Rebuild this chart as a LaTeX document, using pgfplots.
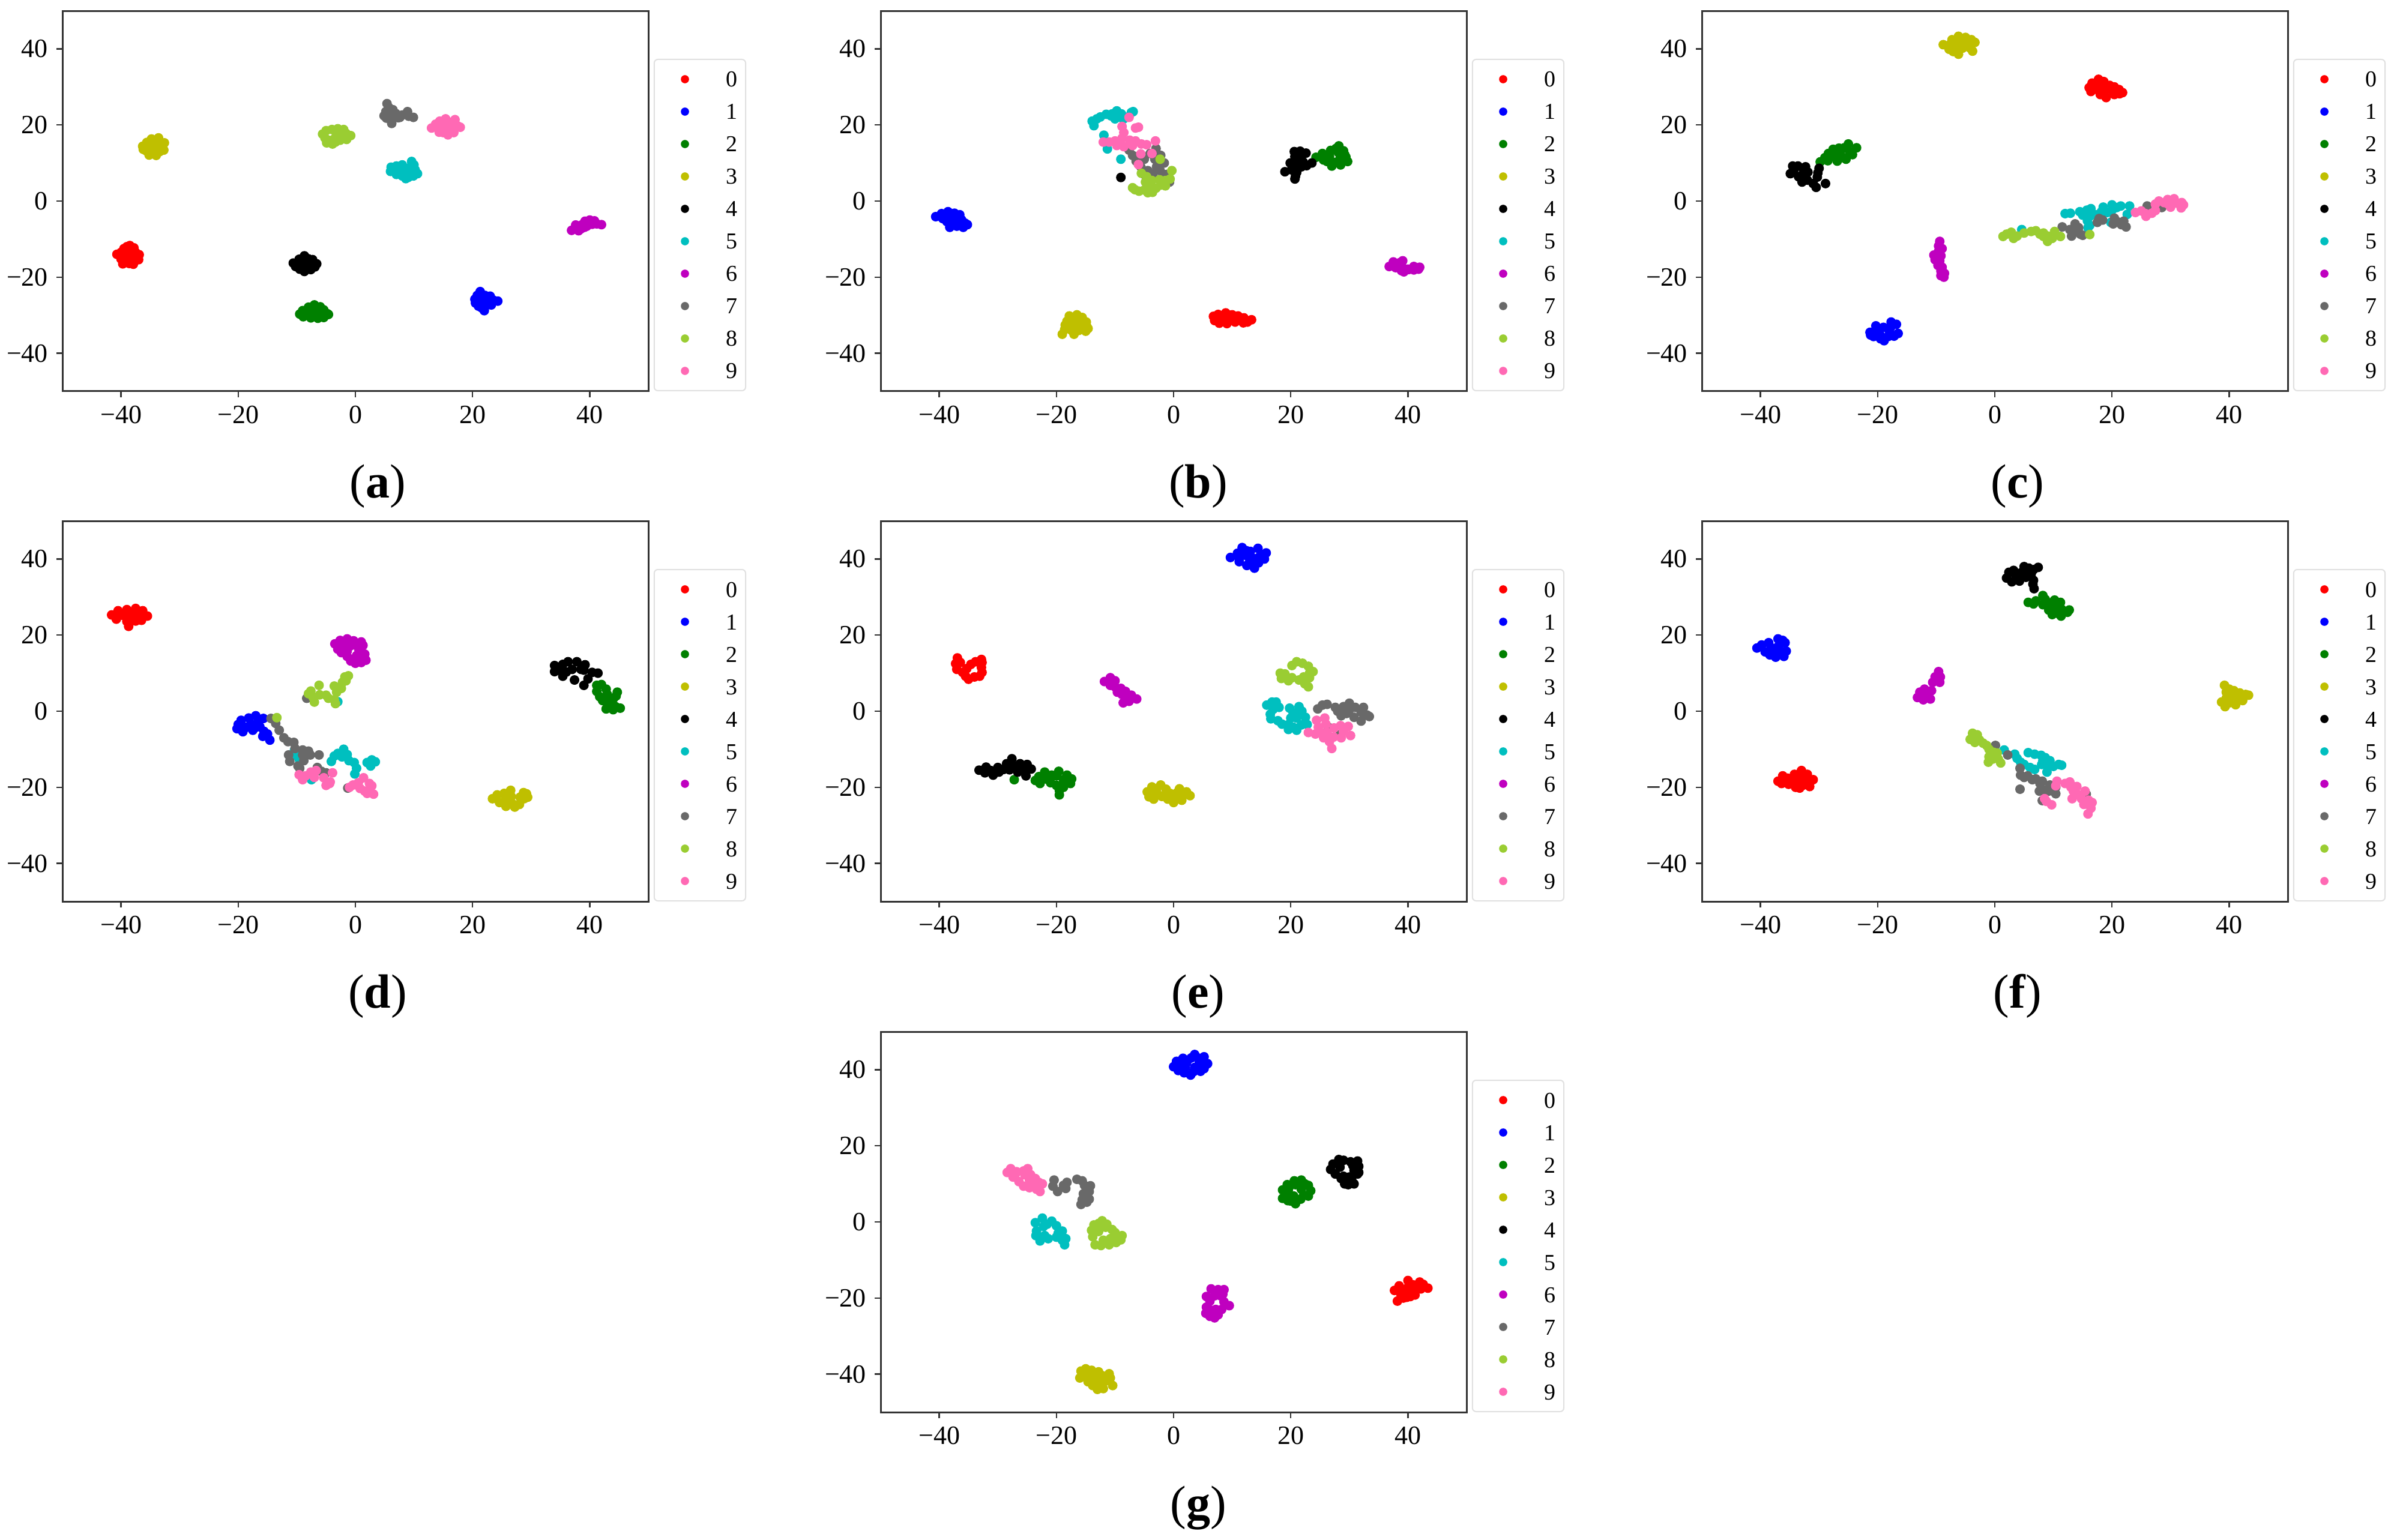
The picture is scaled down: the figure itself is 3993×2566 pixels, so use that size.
\documentclass[border=0pt]{standalone}
\usepackage{fontspec}
\setmainfont{Liberation Serif}
\usepackage{pgfplots}
\pgfplotsset{compat=1.18}

\definecolor{c2}{RGB}{0,128,0}
\definecolor{c3}{RGB}{191,191,0}
\definecolor{c5}{RGB}{0,191,191}
\definecolor{c6}{RGB}{191,0,191}
\definecolor{c7}{RGB}{105,105,105}
\definecolor{c8}{RGB}{154,205,50}
\definecolor{c9}{RGB}{255,105,180}

\pgfplotscreateplotcyclelist{tsne}{
  {red,mark=*},{blue,mark=*},{c2,mark=*},{c3,mark=*},{black,mark=*},
  {c5,mark=*},{c6,mark=*},{c7,mark=*},{c8,mark=*},{c9,mark=*}}

\pgfplotsset{panel/.style 2 args={
    at={(#1*0.25pt,-#2*0.25pt)}, anchor=south west,
    scale only axis, width=244pt, height=158.5pt,
    xmin=-50, xmax=50, ymin=-50, ymax=50,
    xtick={-40,-20,0,20,40}, ytick={-40,-20,0,20,40},
    xticklabels={−40,−20,0,20,40}, yticklabels={−40,−20,0,20,40},
    tick align=outside, tick pos=left, tick style={black!80,line width=0.6pt},
    major tick length=2.5pt,
    axis line style={black!80,line width=0.75pt},
    tick label style={font=\fontsize{11}{13}\selectfont},
    only marks, mark size=1.8pt, cycle list name=tsne,
    legend entries={0,1,2,3,4,5,6,7,8,9},
    legend image code/.code={\path[draw=none,fill=none] (-10.3pt,0pt) rectangle (16pt,0.1pt);
      \draw[##1,mark size=1.45pt] plot coordinates {(0pt,0pt)};},
    legend style={at={(axis description cs:1,0)}, anchor=south west, xshift=2.2pt,
      font=\fontsize{9.5}{11}\selectfont, draw=black!12, line width=0.5pt,
      rounded corners=1.5pt, inner xsep=2.5pt, inner ysep=4pt,
      row sep=5pt, nodes={inner sep=1pt,text height=6.5pt,text depth=0pt}},
    legend cell align=left,
  }}

\begin{document}
\begin{tikzpicture}[x=0.25pt,y=-0.25pt]
\path[use as bounding box] (0,0) rectangle (3993,2566);

% (a)
\begin{axis}[panel={104}{652}]
\addplot coordinates {(-38.5,-11.7)(-39.5,-12.5)(-37.8,-12.3)(-40,-13.5)(-38.8,-13.2)(-37.5,-13.5)(-40.7,-14)(-39.4,-14.3)(-38.2,-14.4)(-36.9,-14.1)(-40,-15.2)(-38.8,-15.4)(-37.6,-15.2)(-39.7,-16.5)(-38.6,-16.4)(-37.9,-16.6)(-37,-15.4)(-39,-12)};
\addplot coordinates {(21.3,-23.8)(20.8,-24.8)(22.1,-24.8)(20.4,-25.8)(21.5,-25.6)(22.8,-25.3)(20.5,-26.8)(21.6,-26.7)(22.7,-26.5)(24.3,-26.3)(23.5,-26)(21,-27.6)(22.1,-27.8)(23.2,-27.3)(22,-28.8)(21.5,-28)(23,-25)};
\addplot coordinates {(-7,-27.3)(-8,-27.9)(-6,-27.8)(-9,-28.8)(-7.8,-28.6)(-6.6,-28.7)(-5.4,-28.6)(-9.5,-29.7)(-8.4,-29.5)(-7.2,-29.8)(-6,-29.6)(-4.8,-29.6)(-8.9,-30.4)(-7.6,-30.7)(-6.4,-30.8)(-5.4,-30.6)(-4.6,-29.8)};
\addplot coordinates {(-34.8,16.3)(-33.6,16.6)(-35.6,15.4)(-34.5,15.5)(-33.3,15.5)(-32.6,15.3)(-36.3,14.4)(-35.2,14.2)(-34.1,14.3)(-33,14.2)(-35.7,13.2)(-34.6,13)(-33.4,13)(-32.7,13.4)(-35.2,12.1)(-34,12)(-36.2,13.6)};
\addplot coordinates {(-8.7,-14.4)(-9.6,-15.3)(-8,-15.2)(-7.3,-15.4)(-10.6,-16.3)(-9.4,-16.2)(-8.3,-16.3)(-7.2,-16.1)(-6.6,-16.5)(-10.2,-17.2)(-9,-17.3)(-7.8,-17.5)(-6.9,-17.3)(-8.7,-18.5)(-9.5,-17.9)(-7.6,-18)};
\addplot coordinates {(6.1,8.9)(7,9.2)(8,9.5)(6,7.8)(7.1,8.1)(8,8.3)(7,7)(8,6.6)(9.6,10.4)(10,9.5)(9.3,8.8)(10.2,8.2)(9.2,7.5)(10.6,7.2)(9,6.2)(9.9,6.6)(8.6,5.9)};
\addplot coordinates {(36.9,-7.7)(37.8,-7.2)(38.5,-7.3)(37.6,-6.3)(38.7,-6.2)(39.5,-6.6)(39.2,-5.3)(40,-5)(40.8,-5.2)(40.4,-6.1)(41.2,-6)(42,-6.2)(38.1,-7.8)(39.1,-6.9)};
\addplot coordinates {(5.4,25.6)(5.7,24.6)(5.2,23.5)(6.4,24)(4.9,22.4)(5.8,22.8)(6.9,23)(5.3,21.8)(6.3,21.5)(6.2,20.4)(7.3,21.9)(8,22.6)(8.9,23.5)(9.1,22.3)(9.9,22)(7.6,22)};
\addplot coordinates {(-5.6,17.6)(-5,18.5)(-4,18.8)(-3,19)(-2,18.8)(-1.6,17.8)(-0.8,17.2)(-1.5,16.2)(-2.6,16)(-3.4,15.5)(-3.9,15)(-4.6,16)(-5.2,16.6)(-3.2,17.8)(-2.4,17.2)(-3.5,16.5)(-4.9,15.3)};
\addplot coordinates {(15.4,21.6)(14.4,21)(17,21.4)(13.7,20.2)(15,20)(16.2,20.2)(17.5,19.7)(13,19.2)(14.4,19)(15.6,18.9)(16.5,19)(17.9,19.4)(15,18)(15.8,17.4)(16.8,18)(14.3,18.1)(16.7,20.9)};
\end{axis}
\node at (629,810) {\fontsize{20}{22}\selectfont(\textbf{a})};

% (b)
\begin{axis}[panel={1467}{652}]
\addplot coordinates {(6.8,-30.3)(7.6,-29.8)(8.9,-29.4)(10,-29.9)(11,-30.2)(12,-30.7)(13.3,-31.2)(7,-31.4)(8.1,-31)(9.2,-30.9)(10.3,-31)(11.4,-31)(12.6,-31.8)(7.8,-32.1)(9.1,-32.2)(10.5,-31.8)(11.9,-32)};
\addplot coordinates {(-40.6,-4.1)(-39.6,-3.3)(-38.5,-2.8)(-37.4,-3.2)(-36.5,-3.6)(-39.4,-4.6)(-38.3,-4.2)(-37.2,-4.5)(-36.2,-4.9)(-38.7,-5.4)(-37.6,-5.7)(-36.6,-5.6)(-35.6,-5.8)(-38.2,-6.9)(-37,-6.6)(-35.9,-6.9)(-35.2,-6.2)};
\addplot coordinates {(24.3,11.5)(25.4,12.5)(25.6,10.8)(26.8,13.3)(26.6,11.8)(27.3,10.2)(27,9.2)(28.2,14.5)(28.1,12.8)(28.4,11.2)(29,13.2)(29.4,11.6)(29.7,10.4)(28.5,9.5)(29.2,12.2)(27.7,13.8)(26.2,10.4)};
\addplot coordinates {(-16.5,-29.9)(-17.8,-30.2)(-15.6,-30.6)(-18.2,-31.6)(-17,-31.4)(-15.8,-31.5)(-14.9,-31.8)(-18.5,-32.6)(-17.3,-32.7)(-16.1,-32.8)(-14.8,-33)(-18.6,-33.8)(-17.4,-34)(-16.2,-34)(-15,-34.2)(-19,-35)(-17,-35)(-14.6,-33.5)};
\addplot coordinates {(-9,6.2)(20.6,13)(21.6,13.1)(22.6,12.6)(20.7,11.7)(21.7,11.8)(19.9,10)(21,10.4)(22.1,10.3)(23.6,10)(20.7,9.2)(21.8,9)(22.7,9.3)(19,7.7)(20.1,8.2)(21,7.5)(20.8,6.5)(20.7,5.8)};
\addplot coordinates {(-13.9,21)(-13.6,19.8)(-13.1,21.6)(-12.5,22.1)(-11.5,22.8)(-10.7,22.4)(-9.7,23.7)(-8.9,22.9)(-10,21.6)(-8.6,21.5)(-7.2,23.3)(-6.9,23.5)(-11.9,17.3)(-11.3,13.7)(-9,11)(-10.5,22.9)(-8,22)};
\addplot coordinates {(36.8,-17.2)(37.5,-16)(38.6,-16.2)(37.9,-17.5)(39,-17.3)(40,-17.9)(41,-17.2)(42,-17.4)(38.9,-18.3)(40.1,-18)(41,-18.1)(41.8,-17.9)(39.1,-15.7)(39.3,-18.6)};
\addplot coordinates {(-7.6,13.4)(-7,12)(-6.4,10.5)(-5.6,9)(-5,11)(-4.4,8)(-4,12.5)(-3.5,7.2)(-3.2,11)(-2.9,9)(-3,13.8)(-2.3,8)(-2.2,12)(-1.6,10)(-1.2,7)(-0.7,5)(-1.5,6)(-5,7)};
\addplot coordinates {(-6.6,3)(-7,3.5)(-5.9,2.6)(-5,2.9)(-4.4,2.2)(-3.6,2.3)(-4,3.6)(-3,3.4)(-2.2,4.2)(-1.4,4)(-1.4,5.4)(-0.6,5.8)(-2.4,5.6)(-5.5,7.3)(-4.6,6.4)(-3.7,5.4)(-0.3,8)(-2.3,11)(-4.8,5)};
\addplot coordinates {(-7.6,22)(-8.8,19.6)(-8.5,18)(-6.5,19.2)(-6,19.4)(-12,15.5)(-11,15.5)(-10,15.8)(-8.8,16.5)(-7.5,16)(-6.5,15.8)(-5.5,15)(-4.6,14.8)(-3.1,15.8)(-8.5,14.3)(-7,14.6)(-5.6,12.4)(-6,9.6)(-3.7,12.5)(-9.7,14.6)};
\end{axis}
\node at (1996,810) {\fontsize{20}{22}\selectfont(\textbf{b})};

% (c)
\begin{axis}[panel={2835}{652}]
\addplot coordinates {(17.7,32)(16.6,31)(18.6,31.4)(16.1,29.8)(17.2,30.3)(18.3,30.2)(19.6,30.4)(20.4,30)(16.4,28.8)(17.6,29.2)(18.8,29.1)(20,29.1)(21.2,29.3)(21.8,28.5)(18,28)(19,27.2)(20.4,28)(21.3,28.2)};
\addplot coordinates {(-20.3,-32.8)(-21.3,-34.5)(-20.2,-34)(-19,-33.2)(-17.7,-31.8)(-16.8,-32.4)(-17.8,-33.2)(-18,-34.2)(-16.5,-34.8)(-20.7,-35.6)(-19.5,-35.4)(-18.2,-35.6)(-17.2,-35.5)(-18.9,-36.7)(-19.5,-36.2)(-21.2,-35.2)};
\addplot coordinates {(-29.8,10.3)(-29,11.4)(-28.4,12.5)(-28.5,10.6)(-27.6,13.6)(-27.4,11.6)(-26.9,10.5)(-26.6,13.9)(-26.4,12.4)(-25.7,14)(-25.4,11)(-25,15)(-24.8,13)(-24.3,12.2)(-23.6,14)(-25.9,11.4)};
\addplot coordinates {(-6.2,43.3)(-7.3,42.4)(-5,43)(-4,42.4)(-8.8,41.1)(-7.5,41.4)(-6.3,41.5)(-5.1,41.6)(-3.8,41.5)(-3.4,41.7)(-7.8,39.9)(-6.6,40.1)(-5.5,40.2)(-4.2,40.2)(-3.8,39.4)(-6.2,38.6)(-7.1,39.3)};
\addplot coordinates {(-34.5,9.2)(-33.6,9.2)(-34.9,7.2)(-34.3,8.2)(-32.7,8.5)(-32.3,9)(-33.5,6.4)(-32.8,7)(-31.9,7.6)(-30,8.6)(-30.2,7.4)(-30.3,6.3)(-32.9,5)(-32,5.5)(-31,4.6)(-30.5,3.6)(-28.9,4.6)};
\addplot coordinates {(4.6,-7.5)(12,-3.3)(12.9,-3.2)(14.5,-2.8)(15.7,-2.4)(16.4,-2)(15,-3.7)(16.2,-4)(17.2,-3.6)(15.8,-5.2)(16.2,-6.4)(15.9,-7)(18.2,-2.8)(18.5,-1.6)(19.2,-3)(20,-1)(20.8,-1.7)(21.5,-1.3)(20,-2.4)(23,-1.3)(22.6,-3.5)(19.8,-5.6)};
\addplot coordinates {(-9.4,-10.6)(-9.6,-11.8)(-9,-12.5)(-9.6,-13.2)(-10.4,-14.2)(-9.2,-14.4)(-10.2,-15.4)(-9.4,-15.7)(-9.7,-16.9)(-9,-17.4)(-9.2,-18.4)(-8.6,-19)(-8.7,-20)(-9.2,-19.6)};
\addplot coordinates {(11.5,-6.8)(12.8,-7.5)(13.7,-6)(13.4,-8)(14.3,-7)(13.1,-9.2)(14.6,-8.7)(15,-9)(17.5,-5.6)(18.4,-5)(17.8,-4.6)(20.4,-4.5)(21,-5.5)(22,-5.3)(22.4,-6.8)(21.6,-6.2)(20.2,-6)(26,-1.3)(28.5,-1.7)};
\addplot coordinates {(1.4,-9.3)(2,-8.7)(2.8,-8.2)(3.2,-9.8)(3.8,-9.2)(5,-8.4)(6.2,-8)(7,-7.8)(7.7,-8.7)(8.3,-9.3)(9,-10.6)(9,-9.2)(9.8,-9.8)(10.2,-8)(11.2,-9.3)(16.2,-8.8)(8.3,-8.4)};
\addplot coordinates {(24,-3)(25,-2.6)(25.7,-3.3)(25.8,-4)(26.8,-3.2)(27.4,-2.5)(27.4,-0.8)(28,0)(28.9,-0.4)(29.5,0.4)(30,-1.6)(30.6,0.6)(30.8,-0.5)(31.8,-1.8)(31.9,-0.4)(32.2,-1)(29.6,-0.8)};
\end{axis}
\node at (3361,810) {\fontsize{20}{22}\selectfont(\textbf{c})};

% (d)
\begin{axis}[panel={104}{1502}]
\addplot coordinates {(-41.6,25.3)(-40.8,24.2)(-40.5,26.4)(-39.7,25.2)(-39,26.7)(-38.5,24.5)(-39,23.6)(-38.7,22.3)(-38,26)(-37.5,27)(-37.5,23.7)(-37,25)(-36.3,26.4)(-36.5,23.9)(-35.5,25)(-38.2,25.5)};
\addplot coordinates {(-20.2,-4.6)(-20,-3.5)(-19.5,-2.4)(-19.2,-5.4)(-18.6,-4.2)(-18.2,-1.8)(-17.8,-3.4)(-17.5,-5)(-17,-1.2)(-16.5,-2.6)(-16.3,-4.1)(-15.7,-1.9)(-15.6,-5.3)(-15.8,-6.6)(-15,-6)(-14.6,-7.6)(-17,-4.2)};
\addplot coordinates {(41.2,6.8)(41.2,5.2)(42,7)(41.7,3.8)(42.2,2.8)(43,4.4)(42.8,5.8)(43.2,3)(44,3.2)(44.7,5)(44.5,4)(43.3,1.6)(42.8,0.6)(44.4,1.2)(45.2,0.8)(44,0.4)};
\addplot coordinates {(23.4,-23)(24.2,-22)(24.6,-24)(25.4,-21.6)(25.6,-23.2)(25.7,-25)(26.5,-20.8)(26.6,-22.4)(26.8,-24.3)(27.2,-25.2)(28,-24.5)(28.8,-23)(28.7,-21.4)(29.2,-21.7)(29.4,-22.6)(28.1,-22.6)};
\addplot coordinates {(34,12)(34,10.4)(34.7,11)(35.4,9.2)(35.4,12.3)(36,10.3)(36.3,13)(37,11)(37.4,8.2)(37.8,13)(38.5,11)(39,10.8)(39.2,12.2)(40.4,10.2)(41.4,10)(39,6.8)(39.7,8.5)};
\addplot coordinates {(-10.4,-10.3)(-10,-11.7)(-9.6,-12.6)(-4.1,-13.2)(-3.6,-11.8)(-3,-11.1)(-2.3,-12)(-2,-10)(-1.4,-11.4)(-1.1,-13)(-0.2,-13.5)(0.2,-15)(-0.1,-16.5)(2,-13.5)(2.6,-14.4)(3.4,-13.3)(2.8,-12.8)(-7.5,-18)(-3,2.5)};
\addplot coordinates {(-3.5,17.7)(-2.6,18.6)(-1.4,19)(-0.3,18.5)(1,18.2)(-3,16.3)(-2.4,15.4)(-1.4,14.4)(-0.8,13.2)(0,12.6)(0.6,16.2)(1.6,15)(1.8,13.4)(1,12.8)(0.2,14.6)(1.3,17.3)(-1.8,17)(-0.8,17.2)(0.2,17.4)(-1.4,15.8)(0.8,14.4)};
\addplot coordinates {(-14.4,-1.9)(-13.6,-3.2)(-13,-5)(-12.2,-7)(-11.5,-8)(-10.5,-8.2)(-10.3,-9.8)(-9,-10.2)(-8,-10.5)(-7.7,-11.5)(-6.2,-11.5)(-11.4,-11.5)(-11.2,-13.2)(-9.8,-14.4)(-8.8,-13)(-9,-11.5)(-6.5,-14.8)(-5.8,-15.8)(-5,-16.2)(-1.3,-20.2)(-8.3,3.4)(-9.5,-15)};
\addplot coordinates {(-8,4.6)(-7.6,5.3)(-7.2,3.6)(-7,2.4)(-6.2,6.8)(-6.1,4.3)(-5,4.2)(-4.6,3.4)(-3.6,6.6)(-3.6,3)(-3.4,2)(-3.2,5)(-2.4,6)(-2.2,7.6)(-1.8,9)(-1.6,8)(-1.2,9.3)(-13.4,-1.7)};
\addplot coordinates {(-9.6,-16.7)(-9,-18)(-8.5,-17)(-7.6,-16)(-7,-17.4)(-6.7,-15.6)(-5.4,-17.5)(-5,-19.5)(-4.3,-18.6)(-3.9,-16.2)(-4.4,-19)(-1,-20)(-0.4,-19.4)(0.5,-18.8)(1.4,-17.5)(0.8,-20.3)(2.4,-19)(1.6,-21)(2.8,-19.6)(3.1,-21.8)(2,-21.6)};
\end{axis}
\node at (629,1660) {\fontsize{20}{22}\selectfont(\textbf{d})};

% (e)
\begin{axis}[panel={1467}{1502}]
\addplot coordinates {(-36.9,14)(-37.2,12.5)(-36.4,12.8)(-37,11)(-36,10.2)(-35.5,9.2)(-35,8.4)(-34,9)(-33.1,9.2)(-32.7,10.2)(-32.8,11.5)(-32.7,12.8)(-32.8,13.6)(-33.8,13)(-34.6,12.3)(-35.3,11.2)};
\addplot coordinates {(9.7,40.4)(10.9,41.5)(11.7,43)(11.2,39.3)(12.2,41)(12.5,38.3)(13.1,42)(13.4,40.3)(13.8,37.6)(14.4,42.8)(14.5,39)(15,41)(15.5,40)(15.8,41.6)(12.9,39)(14.6,40.5)(11.2,40.4)(12.4,42.2)};
\addplot coordinates {(-27.2,-18)(-23.6,-18.2)(-23,-17.2)(-22.8,-19)(-22,-16)(-21.8,-17.8)(-21,-18.8)(-20.8,-16.8)(-20,-17)(-20,-19.5)(-19.6,-15.8)(-19.5,-20.8)(-19.5,-22)(-18.8,-18)(-18.2,-16.8)(-17.6,-19)(-17.4,-17.8)(-18.8,-20)};
\addplot coordinates {(-4.5,-21.2)(-4.2,-22.5)(-3.7,-19.9)(-3.4,-23.1)(-2.9,-21.2)(-2.2,-19.4)(-2,-22.4)(-1.3,-20.5)(-1,-23.1)(-0.6,-21.6)(0,-24)(0.2,-22.4)(1,-20.4)(1.4,-23.4)(2.2,-21.2)(2.8,-22.2)(-1.2,-22)(-3,-20.4)(0.6,-21.4)(1.6,-22.2)};
\addplot coordinates {(-33.2,-15.5)(-32.2,-16.2)(-32,-14.7)(-31.2,-15.6)(-30.8,-16.8)(-30,-14.8)(-29.8,-16)(-29,-15.3)(-28.5,-13.8)(-28,-15.4)(-27.6,-12.5)(-27,-14.4)(-26.6,-16)(-26.2,-13.8)(-25.5,-15.4)(-25,-14)(-24.3,-15.2)(-25.2,-17)};
\addplot coordinates {(15.9,1.6)(16.8,2.4)(17.5,2.4)(18,1)(17,0.5)(16.5,-0.8)(16.6,-2)(17.8,-2.5)(18.5,-3.4)(19.5,-3.6)(19.6,-4.8)(20.4,-4.2)(21,-5)(21.8,-3.6)(22.8,-3.5)(22.5,-1.6)(21.9,0)(21.4,1.2)(19.8,0.8)(20,-1.8)(21,-1.8)(20.4,-0.4)};
\addplot coordinates {(-11.8,7.8)(-10.8,8.8)(-10,8)(-10.8,6.8)(-10,6.4)(-9.6,5)(-9,6)(-8.8,4.4)(-8.2,5.2)(-8.6,2.2)(-7.8,3.4)(-7.2,4.2)(-6.3,3.2)(-7.6,2.6)};
\addplot coordinates {(24.6,0.6)(25.4,1.6)(26.2,1.8)(27.6,1)(28,0)(28.6,-1.2)(29,1.2)(29.5,-0.6)(30,2.1)(30,0.4)(30.8,-1.6)(31,1)(32,-0.2)(32.4,1)(33,-1)(33.4,-1.4)(32,-2.6)(26.4,-4.2)(28.4,-6.2)};
\addplot coordinates {(18.2,10)(18.4,8.6)(19,9.8)(19.6,8)(20.2,8.8)(20.2,12)(21,13)(21.4,8.2)(22,12.6)(22.4,7.2)(23,11.8)(23.2,10)(23.8,10.4)(23.2,8.8)(23,6.4)(22.2,9)};
\addplot coordinates {(24.4,-2.4)(24.7,-4.2)(25.8,-1.8)(26,-3.4)(23,-5.6)(24.2,-6)(25,-5.4)(25.6,-7)(26.2,-5.6)(26.6,-8)(27,-9.8)(27.3,-6.8)(27.4,-4.4)(28.5,-3.8)(29,-5.4)(29.8,-4)(30.2,-6.4)(28.6,-7)};
\end{axis}
\node at (1996,1660) {\fontsize{20}{22}\selectfont(\textbf{e})};

% (f)
\begin{axis}[panel={2835}{1502}]
\addplot coordinates {(-37,-18.4)(-36.2,-17)(-36.4,-19)(-35.4,-17.6)(-35.2,-19.2)(-34.2,-16.6)(-34,-18.4)(-34,-20)(-33,-15.6)(-33,-17.4)(-32.8,-19.5)(-32,-18.2)(-32,-16.6)(-31.6,-19.8)(-31,-18)(-33.3,-20.2)};
\addplot coordinates {(-40.6,16.6)(-39.8,17.4)(-39.2,15.6)(-38.6,18)(-38.4,14.8)(-37.7,16.5)(-37.4,14.2)(-37,19)(-36.8,17.4)(-36.6,15.6)(-36.2,18.6)(-36,14.4)(-35.6,15.8)(-35.8,18)(-38.2,16.6)};
\addplot coordinates {(5.7,28.6)(6.6,28.2)(7,29)(8.2,30.4)(8.2,28)(8.6,29.4)(9.2,26.6)(9.4,28.4)(9.8,25.4)(10.2,29.2)(10.6,27.4)(10.8,25.7)(11.2,28.6)(11.4,26.8)(12.4,26)(12.7,26.6)(11.3,25)};
\addplot coordinates {(38.7,2.4)(39.2,6.8)(39.3,1.2)(39.5,3.4)(39.5,5)(40,2.2)(40.4,4)(40.8,5.4)(41.1,1.7)(41.5,3.2)(41.8,4.8)(42.3,2.8)(42.8,4.4)(43.3,4.2)(40,5.8)};
\addplot coordinates {(2,35)(2.4,36.5)(2.9,34)(3.2,37)(3.6,35.4)(4.2,34.2)(4.6,36.5)(5,38)(5.3,35.2)(5.8,37.6)(6.2,36)(6.6,37.2)(6.6,34.4)(6.5,33.4)(6.7,32.2)(7.4,37.8)(3.5,36)};
\addplot coordinates {(1.6,-10.2)(3.4,-11.3)(3.8,-12.4)(4.4,-13.4)(5,-14)(6,-14.8)(6.8,-15.3)(5.7,-10.9)(6.8,-11.3)(7.9,-11.6)(8.2,-13)(8.6,-12.2)(9.4,-13)(9,-14.6)(8.9,-16)(10,-14.5)(10.9,-14)(11.4,-14.2)(8,-14)};
\addplot coordinates {(-13.2,3.6)(-12.8,5)(-12.2,3)(-12,5.8)(-11.6,4.4)(-11,3.2)(-10.8,5.4)(-10.6,7.6)(-10.2,9)(-10,8)(-9.6,10.4)(-9.3,9)(-9.4,7.6)};
\addplot coordinates {(0.1,-9)(2.2,-11.5)(4.3,-15)(4.4,-16.8)(4.3,-20.5)(5,-17.4)(5.6,-17)(6.4,-18)(7,-17.8)(7.7,-19)(7.6,-21)(8.1,-18.4)(8.2,-20.6)(8.1,-23.5)(9.2,-21)(9.4,-19.4)(10.4,-20)(10.4,-21.7)(15.6,-21.8)};
\addplot coordinates {(-4.2,-7.4)(-3.8,-5.8)(-3.5,-7)(-3.4,-8.2)(-3,-6.2)(-2.6,-7.6)(-2,-8.4)(-1.4,-9)(-1,-10)(-0.2,-10.8)(0.4,-11)(-1,-12)(-0.4,-12.6)(0.6,-12.6)(1,-13.6)(-1.1,-13.4)};
\addplot coordinates {(10.6,-18.4)(10.4,-19.6)(12,-19)(12.8,-18.6)(13,-20)(13.4,-21)(14,-19.8)(13.2,-23)(14.3,-22)(14.8,-23)(15.4,-21)(15.2,-24.5)(16,-23.4)(16.6,-24)(16.4,-25.5)(15.9,-27)(8.5,-23)(8.8,-23.7)(9.7,-24.6)};
\end{axis}
\node at (3361,1660) {\fontsize{20}{22}\selectfont(\textbf{f})};

% (g)
\begin{axis}[panel={1467}{2353}]
\addplot coordinates {(37.7,-18)(38.2,-20.8)(38.5,-16.8)(38.8,-19)(39.6,-17.7)(39.8,-19.8)(40,-15.4)(40.6,-18.4)(40.8,-16.5)(41.2,-19.2)(41.4,-17.4)(42,-15.8)(42.2,-17.6)(42.6,-16.4)(43.4,-17.4)(39.2,-20)(40,-17.2)(39.2,-18.6)(41,-17.8)(40.4,-19.6)};
\addplot coordinates {(0,40.8)(0.5,42.2)(0.8,39.8)(1.2,41.4)(1.6,43)(1.8,39.2)(2.4,42.5)(2.9,38.6)(3,43.1)(3.6,44)(3.4,39.5)(4.2,41)(4.6,39.6)(4.4,43)(5.2,43.4)(5.8,41.6)(5.2,40.3)(2,40.6)(4.4,42)(2.2,41.8)(3.6,40.6)};
\addplot coordinates {(18.6,6.2)(18.6,8.4)(19.4,9.8)(19.6,7)(20,5.5)(20.6,10.8)(20.8,4.8)(21.8,11)(21.7,6)(22.4,10)(22.2,7)(23.4,8.2)(23,6.8)(19.5,5.6)(23,9.6)(20.8,9.8)(20.5,6.8)(19.6,8.6)(21.8,8.6)};
\addplot coordinates {(-15.8,-39.2)(-16,-41)(-15,-38.6)(-14.8,-40.4)(-14.6,-42)(-14,-39)(-13.8,-43)(-13.6,-41)(-13,-44)(-12.8,-42.2)(-12.2,-40.4)(-12,-43.8)(-11.6,-41.8)(-11,-39.9)(-10.4,-43)(-10.8,-41)(-14,-40.6)(-13,-41.4)(-12.8,-39.4)(-13.4,-42.6)};
\addplot coordinates {(26.8,13.8)(27.2,15.2)(27.6,12.6)(28.2,16.4)(28.6,11.4)(29,16.2)(29.2,10)(29.8,9.8)(30.2,15.8)(30.4,11)(30.8,10)(31.4,12.6)(31.6,14.6)(31.6,13)(31.4,16)(30.8,13.6)(28.4,14.4)(30.6,14.8)(29,12)(30,11.8)};
\addplot coordinates {(-23.6,-0.2)(-23.4,-2.4)(-23.5,-3.6)(-22.8,-5)(-22.4,1)(-21.6,-0.6)(-21.4,-4.4)(-20.8,0.2)(-20,-4)(-20,-1)(-19.7,-3)(-19,-4.8)(-19,-2.4)(-18.4,-4.4)(-18.6,-6)(-22.2,-1.2)(-22,-3.6)};
\addplot coordinates {(5.6,-19.6)(6.4,-17.6)(6.2,-20.8)(5.6,-22.4)(5.5,-24)(6.2,-24.8)(7,-25.2)(7.6,-24.4)(8.2,-23)(8.6,-21)(8.4,-19)(8.6,-17.8)(7.6,-17.8)(9.5,-22)(7,-19.4)(7.2,-23)(6.4,-23.2)(8,-19.4)};
\addplot coordinates {(-20.4,11)(-20.6,9.4)(-19.8,8)(-18.8,9.6)(-18.2,10.4)(-18.4,8.8)(-16.5,11.2)(-15.6,10.8)(-15.2,9.6)(-14.2,9.5)(-14.4,8)(-15.4,7.4)(-15.6,5.8)(-15.8,4.6)(-14.8,5.2)(-14.4,6)};
\addplot coordinates {(-14,-2.2)(-13.6,-0.8)(-13.8,-3.9)(-13.4,-6)(-12.8,-0.4)(-12.2,0.3)(-12.4,-6.2)(-11.4,-0.6)(-11,-6)(-10.5,-2)(-10,-2.8)(-9.4,-4)(-9,-4.7)(-9.8,-5.4)(-8.8,-3.6)(-12.8,-2.5)(-12,-4.8)(-10.8,-4.4)(-11.6,-1.4)};
\addplot coordinates {(-28.4,13)(-27.8,14)(-27.4,11.8)(-26.8,13.2)(-26.4,10.6)(-25.6,13.4)(-25.6,9.4)(-24.9,14)(-24.6,9)(-24.4,12.4)(-23.6,11.4)(-23.4,8.6)(-23,10.4)(-22.4,10)(-22.8,8)(-24.6,11)(-27,12.6)(-25.4,12.4)(-24,9.8)};
\end{axis}
\node at (1996,2513) {\fontsize{20}{22}\selectfont(\textbf{g})};
\end{tikzpicture}
\end{document}
